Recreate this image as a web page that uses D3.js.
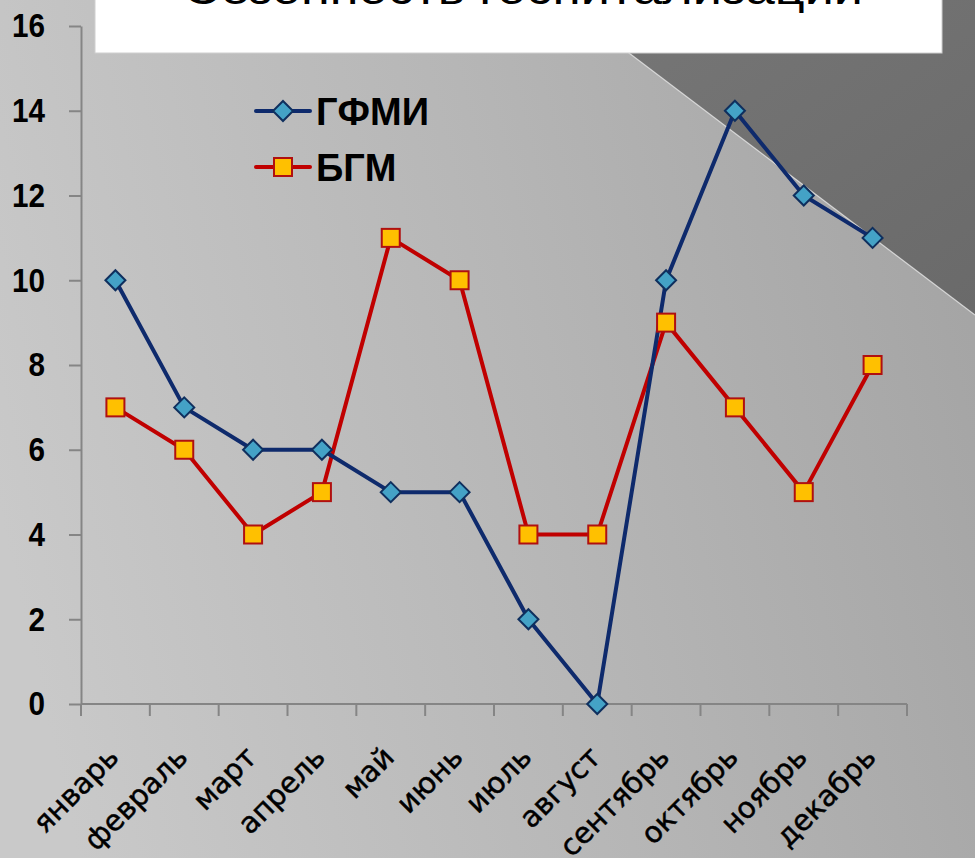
<!DOCTYPE html>
<html>
<head>
<meta charset="utf-8">
<script src="https://cdn.jsdelivr.net/npm/d3@7/dist/d3.min.js"></script>
<style>
  html, body { margin: 0; padding: 0; background: #bdbdbd; }
  svg { display: block; }
</style>
</head>
<body>
<svg id="chart" width="975" height="858"></svg>
<script>
// Monthly hospitalisations for two diagnoses
const months = ["январь", "февраль", "март", "апрель", "май", "июнь",
                "июль", "август", "сентябрь", "октябрь", "ноябрь", "декабрь"];
const gfmi = [10, 7, 6, 6, 5, 5, 2, 0, 10, 14, 12, 11];
const bgm  = [7, 6, 4, 5, 11, 10, 4, 4, 9, 7, 5, 8];
const yTicks = [0, 2, 4, 6, 8, 10, 12, 14, 16];
const seriesNames = ["ГФМИ", "БГМ"];
const titleText = "Сезонность госпитализации";

const W = 975, H = 858;
const svg = d3.select("#chart");
const defs = svg.append("defs");

// Slide background
const bg = defs.append("linearGradient").attr("id", "bgGrad")
  .attr("x1", "0%").attr("y1", "60%").attr("x2", "100%").attr("y2", "40%");
bg.append("stop").attr("offset", "0%").attr("stop-color", "#c9c9c9");
bg.append("stop").attr("offset", "55%").attr("stop-color", "#b6b6b6");
bg.append("stop").attr("offset", "100%").attr("stop-color", "#a5a5a5");
svg.append("rect").attr("width", W).attr("height", H).attr("fill", "url(#bgGrad)");

// Dark corner wedge
const dk = defs.append("linearGradient").attr("id", "darkGrad")
  .attr("x1", "0%").attr("y1", "0%").attr("x2", "100%").attr("y2", "100%");
dk.append("stop").attr("offset", "0%").attr("stop-color", "#777777");
dk.append("stop").attr("offset", "100%").attr("stop-color", "#6a6a6a");
svg.append("path").attr("d", `M559,0 L${W},0 L${W},315 Z`).attr("fill", "url(#darkGrad)");
svg.append("line").attr("x1", 559).attr("y1", 0).attr("x2", W).attr("y2", 315)
  .attr("stroke", "#e8e8e8").attr("stroke-width", 1.2).attr("opacity", 0.8);

// Title box (heading sits mostly above the top edge)
svg.append("rect").attr("x", 95).attr("y", -2).attr("width", 847).attr("height", 55)
  .attr("fill", "#ffffff").attr("stroke", "#cfcfcf").attr("stroke-width", 1);
svg.append("text").attr("x", 523).attr("y", 4)
  .attr("text-anchor", "middle")
  .attr("font-family", "Liberation Sans, Arial, sans-serif")
  .attr("font-size", 44)
  .attr("textLength", 680).attr("lengthAdjust", "spacingAndGlyphs")
  .attr("fill", "#000")
  .text(titleText);

// Scales
const x = d3.scaleBand().domain(months).range([81, 907]).padding(0);
const y = d3.scaleLinear().domain([0, 16]).range([704, 26]);
const cx = d => x(d) + x.bandwidth() / 2;

const axisColor = "#858585";

// Y axis
const yAxis = svg.append("g").attr("transform", "translate(81,0)")
  .call(d3.axisLeft(y).tickValues(yTicks).tickSize(12).tickSizeOuter(0).tickPadding(24).tickFormat(d3.format("d")));
yAxis.select(".domain").attr("stroke", axisColor).attr("stroke-width", 2);
yAxis.selectAll(".tick line").attr("stroke", axisColor).attr("stroke-width", 2);
yAxis.selectAll(".tick text")
  .attr("font-family", "Liberation Sans, Arial, sans-serif").attr("font-weight", "bold")
  .attr("font-size", 34).attr("fill", "#000")
  .attr("textLength", d => String(d).length * 16.5)
  .attr("lengthAdjust", "spacingAndGlyphs");

// X axis: baseline with ticks on category boundaries
const xAxis = svg.append("g").attr("transform", "translate(0,704)");
xAxis.append("line").attr("x1", 81).attr("x2", 907).attr("y1", 0).attr("y2", 0)
  .attr("stroke", axisColor).attr("stroke-width", 2);
const bounds = months.map(m => x(m)).concat([x(months[months.length - 1]) + x.bandwidth()]);
xAxis.selectAll("line.tk").data(bounds).join("line").attr("class", "tk")
  .attr("x1", d => d).attr("x2", d => d).attr("y1", 0).attr("y2", 12)
  .attr("stroke", axisColor).attr("stroke-width", 2);
xAxis.selectAll("text.lbl").data(months).join("text").attr("class", "lbl")
  .attr("transform", d => `translate(${cx(d) + 5},${55}) rotate(-45)`)
  .attr("text-anchor", "end")
  .attr("font-family", "DejaVu Sans, sans-serif")
  .attr("font-size", 29)
  .attr("fill", "#000")
  .attr("stroke", "#000").attr("stroke-width", 0.5)
  .text(d => d);

// Series
const navy = "#0e2a6c", red = "#c00000";
const line = d3.line().x((d, i) => cx(months[i])).y(d => y(d));

svg.append("path").datum(bgm).attr("d", line)
  .attr("fill", "none").attr("stroke", red).attr("stroke-width", 4).attr("stroke-linejoin", "round");
svg.append("path").datum(gfmi).attr("d", line)
  .attr("fill", "none").attr("stroke", navy).attr("stroke-width", 4).attr("stroke-linejoin", "round");

const diamond = (g) => g.append("path")
  .attr("d", "M0,-10 L10,0 L0,10 L-10,0 Z")
  .attr("fill", "#44a2c6").attr("stroke", "#0f2f5e").attr("stroke-width", 2);
const square = (g) => g.append("rect")
  .attr("x", -9).attr("y", -9).attr("width", 18).attr("height", 18)
  .attr("fill", "#ffc000").attr("stroke", "#b01010").attr("stroke-width", 2);

svg.append("g").selectAll("g").data(bgm).join("g")
  .attr("transform", (d, i) => `translate(${cx(months[i])},${y(d)})`)
  .each(function () { square(d3.select(this)); });
svg.append("g").selectAll("g").data(gfmi).join("g")
  .attr("transform", (d, i) => `translate(${cx(months[i])},${y(d)})`)
  .each(function () { diamond(d3.select(this)); });

// Legend
const legend = svg.append("g");
const legendRows = [
  { name: seriesNames[0], color: navy, marker: diamond, y: 111 },
  { name: seriesNames[1], color: red, marker: square, y: 167 }
];
legendRows.forEach(r => {
  const g = legend.append("g").attr("transform", `translate(0,${r.y})`);
  g.append("line").attr("x1", 256).attr("x2", 310).attr("y1", 0).attr("y2", 0)
    .attr("stroke", r.color).attr("stroke-width", 4).attr("stroke-linecap", "round");
  r.marker(g.append("g").attr("transform", "translate(283,0)"));
  g.append("text").attr("x", 316).attr("y", 14)
    .attr("font-family", "Liberation Sans, Arial, sans-serif")
    .attr("font-weight", "bold").attr("font-size", 38).attr("fill", "#000")
    .text(r.name);
});
</script>
</body>
</html>
